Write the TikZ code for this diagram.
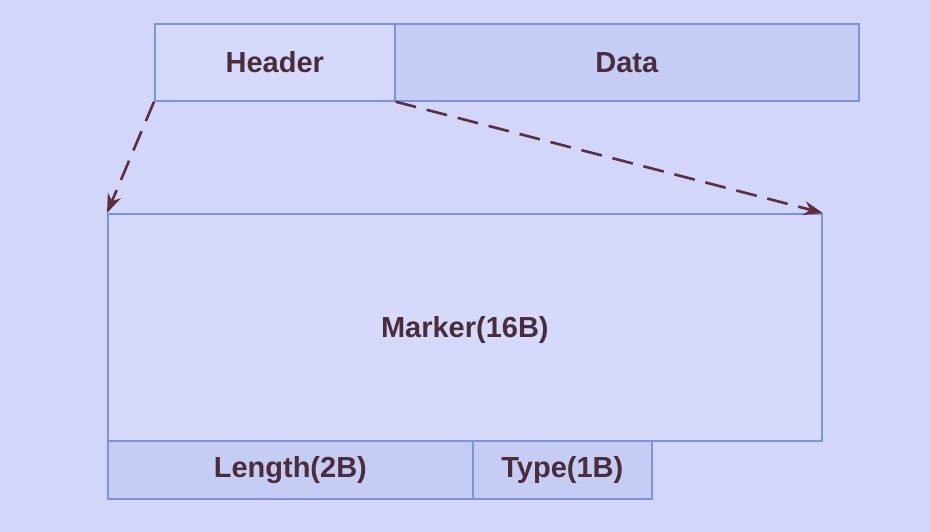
\documentclass[tikz,border=0pt]{standalone}
\usepackage{fontspec}
\setmainfont{Liberation Sans}
\usetikzlibrary{arrows.meta}
\definecolor{bgc}{HTML}{D2D7F9}
\definecolor{lightbox}{HTML}{D5DAFA}
\definecolor{darkbox}{HTML}{C5CDF5}
\definecolor{edgec}{HTML}{7D92E2}
\definecolor{txtc}{HTML}{4A2C3A}
\definecolor{arrc}{HTML}{5B2E40}
\tikzset{
  field/.style={draw=edgec, line width=1.7pt, text=txtc, font=\fontsize{29}{34}\selectfont\bfseries, inner sep=0pt},
  zoomline/.style={draw=arrc, line width=2.6pt, dash pattern=on 21pt off 11pt, -{Stealth[length=19pt,width=14pt]}}
}
\begin{document}
\begin{tikzpicture}[x=1pt,y=-1pt]
\fill[bgc] (0,0) rectangle (930,532);
\useasboundingbox (0,0) rectangle (930,532);
\node[field, fill=lightbox, minimum width=240pt, minimum height=77pt, anchor=north west, text depth=-1pt] (hdr) at (154,23) {Header};
\node[field, fill=darkbox, minimum width=464pt, minimum height=77pt, anchor=north west, text depth=-1pt] (dat) at (394,23) {Data};
\node[field, fill=lightbox, minimum width=714pt, minimum height=227pt, anchor=north west, text depth=-4pt] (mrk) at (107,213) {Marker(16B)};
\node[field, fill=darkbox, minimum width=365pt, minimum height=58pt, anchor=north west] (len) at (107,440) {Length(2B)};
\node[field, fill=darkbox, minimum width=179pt, minimum height=58pt, anchor=north west] (typ) at (472,440) {Type(1B)};
\draw[zoomline] (hdr.south west) -- (mrk.north west);
\draw[zoomline] (hdr.south east) -- (mrk.north east);
\end{tikzpicture}
\end{document}
